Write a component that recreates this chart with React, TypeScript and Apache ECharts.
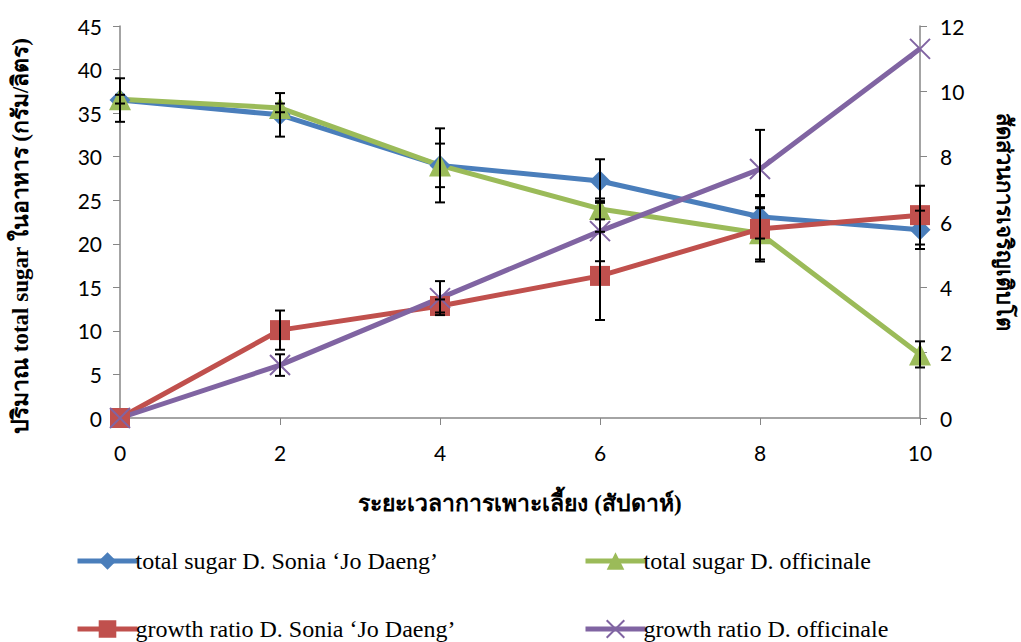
import React, { useEffect, useRef } from "react";
import * as echarts from "echarts";

const weeks = [0, 2, 4, 6, 8, 10];
const xTicks = [0, 2, 4, 6, 8, 10];
const sugarSonia = [36.5, 34.8, 29.0, 27.2, 23.1, 21.6];
const sugarOfficinale = [36.6, 35.6, 29.0, 24.0, 21.2, 7.3];
const growthSonia = [0, 2.69, 3.43, 4.35, 5.79, 6.21];
const growthOfficinale = [0, 1.62, 3.67, 5.72, 7.62, 11.3];
const sugarSoniaErr = [2.5, 2.5, 2.5, 2.5, 2.5, 2.2];
const sugarOfficinaleErr = [0.5, 0.5, 4.25, 1.2, 3.0, 1.5];
const growthSoniaErr = [0, 0.6, 0.2, 1.35, 1.0, 0.9];
const growthOfficinaleErr = [0, 0.33, 0.52, 0.92, 1.2, 0];

const names = [
  "total sugar D. Sonia \u2018Jo Daeng\u2019",
  "total sugar D. officinale",
  "growth ratio D. Sonia \u2018Jo Daeng\u2019",
  "growth ratio D. officinale",
];
const colors = ["#4A7EBB", "#9BBB59", "#C0504D", "#8064A2"];

const tickFont = "Lato, 'Liberation Sans', sans-serif";
const serif = "'Liberation Serif', 'Times New Roman', serif";

function pairs(vals: number[]) {
  return weeks.map((w, i) => [w, vals[i]]);
}
function errData(vals: number[], errs: number[]) {
  return weeks.map((w, i) => [w, vals[i] - errs[i], vals[i] + errs[i]]);
}

function errSeries(vals: number[], errs: number[], yAxisIndex: number) {
  return {
    type: "custom",
    yAxisIndex,
    z: 10,
    data: errData(vals, errs).filter((d) => d[2] - d[1] > 0),
    renderItem: (params: any, api: any) => {
      const x = api.value(0);
      const lo = api.coord([x, api.value(1)]);
      const hi = api.coord([x, api.value(2)]);
      const cap = 5;
      const style = { stroke: "#000", lineWidth: 2 };
      return {
        type: "group",
        children: [
          { type: "line", shape: { x1: lo[0], y1: lo[1], x2: hi[0], y2: hi[1] }, style },
          { type: "line", shape: { x1: lo[0] - cap, y1: lo[1], x2: lo[0] + cap, y2: lo[1] }, style },
          { type: "line", shape: { x1: hi[0] - cap, y1: hi[1], x2: hi[0] + cap, y2: hi[1] }, style },
        ],
      };
    },
  };
}

function lineSeries(idx: number, vals: number[], yAxisIndex: number, symbol: string, size: number) {
  return {
    name: names[idx],
    type: "line",
    yAxisIndex,
    data: pairs(vals),
    symbol,
    symbolSize: size,
    z: 5,
    lineStyle: { color: colors[idx], width: 5 },
    itemStyle: { color: colors[idx] },
  };
}

export default function App() {
  const ref = useRef<HTMLDivElement>(null);
  useEffect(() => {
    const chart = echarts.init(ref.current!, null, { renderer: "svg" });
    const axisLine = { show: true, lineStyle: { color: "#868686", width: 1.5 } };
    const legendPos = [
      { left: 75, top: 549 },
      { left: 583, top: 549 },
      { left: 75, top: 617 },
      { left: 583, top: 617 },
    ];
    chart.setOption({
      animation: false,
      backgroundColor: "#fff",
      grid: { left: 120, right: 101, top: 26, bottom: 224, outerBoundsMode: "none", containLabel: false },
      legend: legendPos.map((p, i) => ({
        data: [names[i]],
        left: p.left,
        top: p.top,
        padding: 0,
        itemWidth: 60,
        itemHeight: 22,
        itemGap: 0,
        lineStyle: { width: 5 },
        textStyle: { fontFamily: serif, fontSize: 24, color: "#000", padding: [0, 0, 0, -7] },
      })),
      xAxis: {
        type: "value",
        min: 0,
        max: 10,
        interval: 2,
        name: "ระยะเวลาการเพาะเลี้ยง (สัปดาห์)",
        nameLocation: "middle",
        nameGap: 74,
        nameTextStyle: { fontFamily: serif, fontWeight: "bold", fontSize: 23, color: "#000" },
        axisLine,
        axisTick: { show: true, length: 7, lineStyle: { color: "#868686" } },
        axisLabel: {
          margin: 24,
          fontFamily: tickFont,
          fontSize: 21,
          color: "#000",
          formatter: (v: number) => (xTicks.includes(v) ? String(v) : ""),
        },
        splitLine: { show: false },
      },
      yAxis: [
        {
          type: "value",
          min: 0,
          max: 45,
          interval: 5,
          position: "left",
          name: "ปริมาณ total sugar ในอาหาร (กรัม/ลิตร)",
          nameLocation: "middle",
          nameGap: 88,
          nameRotate: 90,
          nameTextStyle: { fontFamily: serif, fontWeight: "bold", fontSize: 23, color: "#000", padding: [0, 28, 0, 0] },
          axisLine,
          axisTick: { show: true, length: 7, lineStyle: { color: "#868686" } },
          axisLabel: { margin: 18, fontFamily: tickFont, fontSize: 21, color: "#000" },
          splitLine: { show: false },
        },
        {
          type: "value",
          min: 0,
          max: 12,
          interval: 2,
          position: "right",
          name: "สัดส่วนการเจริญเติบโต",
          nameLocation: "middle",
          nameGap: 74,
          nameRotate: -90,
          nameTextStyle: { fontFamily: tickFont, fontWeight: "bold", fontSize: 22, color: "#000" },
          axisLine,
          axisTick: { show: true, length: 7, lineStyle: { color: "#868686" } },
          axisLabel: { margin: 20, fontFamily: tickFont, fontSize: 21, color: "#000" },
          splitLine: { show: false },
        },
      ],
      series: [
        lineSeries(0, sugarSonia, 0, "diamond", 21),
        lineSeries(1, sugarOfficinale, 0, "triangle", 22),
        lineSeries(2, growthSonia, 1, "rect", 20),
        {
          name: names[3],
          type: "line",
          yAxisIndex: 1,
          data: pairs(growthOfficinale),
          symbol: "path://M0 0L20 20M20 0L0 20",
          symbolSize: 20,
          z: 5,
          lineStyle: { color: colors[3], width: 5 },
          itemStyle: { color: "rgba(0,0,0,0)", borderColor: colors[3], borderWidth: 2 },
        },
        errSeries(sugarSonia, sugarSoniaErr, 0),
        errSeries(sugarOfficinale, sugarOfficinaleErr, 0),
        errSeries(growthSonia, growthSoniaErr, 1),
        errSeries(growthOfficinale, growthOfficinaleErr, 1),
      ],
    });
    return () => chart.dispose();
  }, []);
  return (
    <div
      ref={ref}
      style={{ position: "fixed", left: 0, top: 0, width: 1021, height: 642 }}
    />
  );
}
